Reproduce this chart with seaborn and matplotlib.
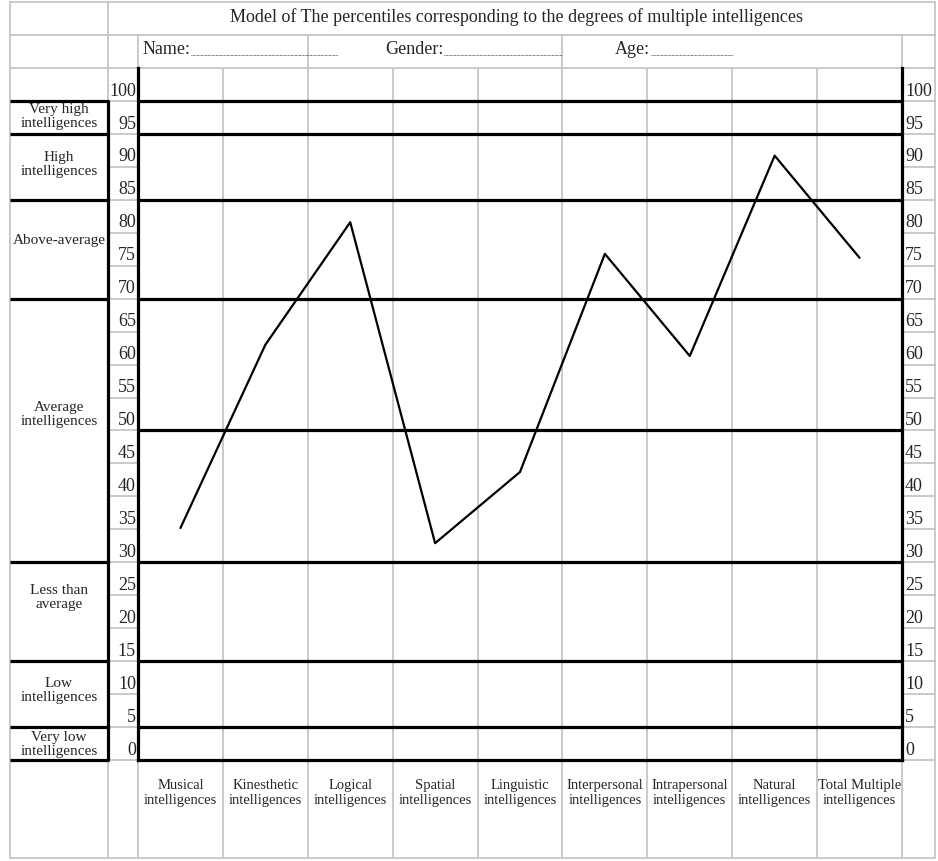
import matplotlib
matplotlib.use('Agg')
import matplotlib.pyplot as plt
import matplotlib.transforms as mtransforms
import seaborn as sns
import pandas as pd

# data
categories = ['Musical\nintelligences', 'Kinesthetic\nintelligences', 'Logical\nintelligences',
              'Spatial\nintelligences', 'Linguistic\nintelligences', 'Interpersonal\nintelligences',
              'Intrapersonal\nintelligences', 'Natural\nintelligences', 'Total Multiple\nintelligences']
percentiles = [35.2, 63.0, 81.6, 32.9, 43.7, 76.8, 61.3, 91.7, 76.2]
tick_values = list(range(0, 101, 5))
band_edges = [100, 95, 85, 70, 30, 15, 5, 0]
band_names = ['Very high\nintelligences', 'High\nintelligences', 'Above-average',
              'Average\nintelligences', 'Less than\naverage', 'Low\nintelligences',
              'Very low\nintelligences']
title = 'Model of The percentiles corresponding to the degrees of multiple intelligences'

df = pd.DataFrame({'category': categories, 'percentile': percentiles})

sns.set_style('white')
plt.rcParams['font.family'] = ['Liberation Serif', 'DejaVu Serif']

W, H = 938, 861
fig = plt.figure(figsize=(W / 100, H / 100), dpi=100)
fig.patch.set_facecolor('white')

# background axes in pixel units for the form grid
bg = fig.add_axes([0, 0, 1, 1])
bg.set_xlim(0, W)
bg.set_ylim(H, 0)
bg.axis('off')

# plot area
px0, px1, py0, py1 = 138, 902, 68, 760
ax = fig.add_axes([px0 / W, (H - py1) / H, (px1 - px0) / W, (py1 - py0) / H])
ax.set_facecolor('none')
ax.set_ylim(0, 105)
ax.set_xlim(-0.5, len(categories) - 0.5)

gray = '#c6c6c6'
thick = 2.3
thin = 1.3

# outer frame and header rows
bg.plot([10, 10], [2, 858], color=gray, lw=thin)
bg.plot([935, 935], [2, 858], color=gray, lw=thin)
bg.plot([10, 935], [2, 2], color=gray, lw=thin)
bg.plot([10, 935], [858, 858], color=gray, lw=thin)
bg.plot([10, 935], [35, 35], color=gray, lw=thin)
bg.plot([10, 935], [68, 68], color=gray, lw=thin)
bg.plot([108, 108], [2, 858], color=gray, lw=thin)
bg.plot([138, 138], [35, 68], color=gray, lw=thin)
bg.plot([902, 902], [35, 68], color=gray, lw=thin)
bg.plot([138, 138], [760, 858], color=gray, lw=thin)
bg.plot([902, 902], [760, 858], color=gray, lw=thin)

colw = (px1 - px0) / len(categories)
for k in range(1, len(categories)):
    x = px0 + k * colw
    bg.plot([x, x], [py0, 858], color=gray, lw=thin, zorder=1)
for k in (2, 5):
    x = px0 + k * colw
    bg.plot([x, x], [35, 68], color=gray, lw=thin)

bg.text(517, 17, title, ha='center', va='center', fontsize=13)
bg.text(143, 49, 'Name:', ha='left', va='center', fontsize=13)
bg.plot([191, 338], [55, 55], color='#444444', lw=0.7, ls=(0, (0.7, 0.7)))
bg.text(385, 49, 'Gender:', ha='left', va='center', fontsize=13)
bg.plot([444, 562], [55, 55], color='#444444', lw=0.7, ls=(0, (0.7, 0.7)))
bg.text(615, 49, 'Age:', ha='left', va='center', fontsize=13)
bg.plot([651, 733], [55, 55], color='#444444', lw=0.7, ls=(0, (0.7, 0.7)))

# pixel x, percentile y
tr = mtransforms.blended_transform_factory(bg.transData, ax.transData)

for v in tick_values:
    bg.plot([108, 138], [v, v], color=gray, lw=thin, transform=tr)
    bg.plot([902, 935], [v, v], color=gray, lw=thin, transform=tr)
    bg.text(136, v + 1.5, str(v), ha='right', va='center', fontsize=13, transform=tr)
    bg.text(905, v + 1.5, str(v), ha='left', va='center', fontsize=13, transform=tr)

for v in band_edges:
    bg.plot([10, 108], [v, v], color='black', lw=thick, transform=tr, solid_capstyle='butt')
bg.plot([108, 108], [0, 100], color='black', lw=thick, transform=tr)

label_y = [97.6, 90.3, 78.9, 52.4, 24.6, 10.5, 2.4]
for name, y in zip(band_names, label_y):
    bg.text(59, y, name, ha='center', va='center', fontsize=11,
             linespacing=1.08, transform=tr)

# thick band lines across the plot area
for v in [100, 95, 85, 70, 50, 30, 15, 5]:
    ax.axhline(v, color='black', lw=thick, zorder=2)

sns.lineplot(data=df, x='category', y='percentile', ax=ax, color='black',
             lw=1.6, sort=False, zorder=3)

for side in ['left', 'right', 'bottom']:
    ax.spines[side].set_visible(True)
    ax.spines[side].set_color('black')
    ax.spines[side].set_linewidth(thick)
ax.spines['top'].set_visible(False)
ax.set_yticks([])
ax.set_xlabel('')
ax.set_ylabel('')
ax.set_xticks(range(len(categories)))
ax.set_xticklabels(categories, fontsize=10.5, linespacing=1.12)
ax.tick_params(axis='x', length=0, pad=14)

fig.savefig('out.png', dpi=100)
